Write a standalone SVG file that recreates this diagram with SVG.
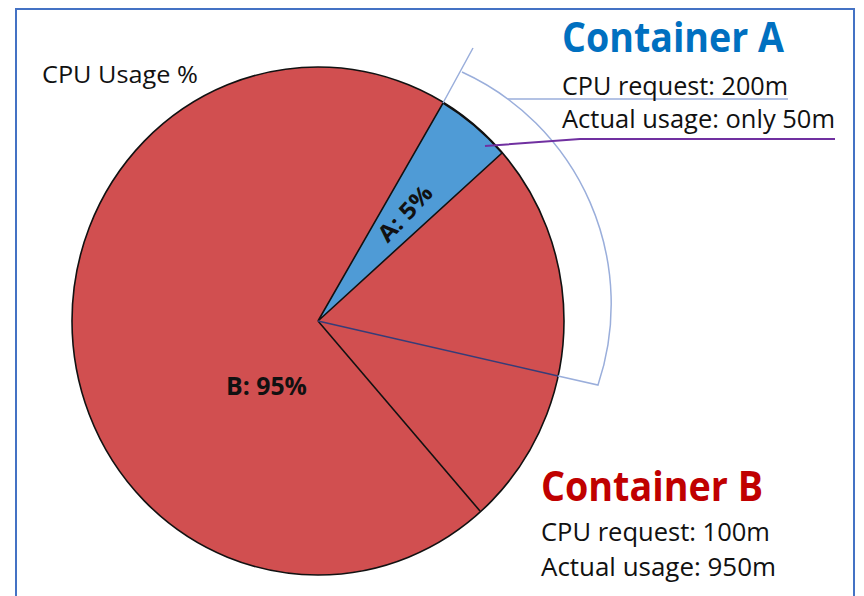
<svg xmlns="http://www.w3.org/2000/svg" width="864" height="596" viewBox="0 0 864 596">
<style>
.t{font-family:"Open Sans","Liberation Sans",sans-serif;fill:#111;}
.h{font-family:"Open Sans","Liberation Sans",sans-serif;font-weight:bold;}
.edge{stroke:#111;stroke-width:1.6;fill:none;}
.br{stroke:#9AAEDB;stroke-width:1.5;fill:none;}
</style>
<rect width="864" height="596" fill="#fff"/>
<rect x="16" y="9" width="838" height="600" fill="none" stroke="#4472C4" stroke-width="2"/>
<text class="t" x="42" y="83" font-size="24" textLength="156" lengthAdjust="spacingAndGlyphs">CPU Usage %</text>
<g id="pie">
<ellipse cx="318" cy="321" rx="246" ry="254" fill="#D14F50" stroke="#111" stroke-width="1.6"/>
<g id="sliceA">
<path d="M318,321 L443,103 A246,254 0 0,1 502,153 Z" fill="#4F9BD6" stroke="#111" stroke-width="1.6"/>
<text class="h" font-size="23" fill="#111" transform="translate(411,219) rotate(-47)" text-anchor="middle" textLength="68" lengthAdjust="spacingAndGlyphs">A: 5%</text>
</g>
<g id="sliceB">
<line class="edge" x1="318" y1="321" x2="480" y2="511"/>
<text class="h" x="226" y="395" font-size="25" fill="#111" textLength="81" lengthAdjust="spacingAndGlyphs">B: 95%</text>
</g>
</g>
<g id="connectors">
<line x1="318" y1="321" x2="558" y2="376" stroke="#363C78" stroke-width="1.6"/>
<path class="br" d="M443,103 L473,48 M462,72 A255,255 0 0,1 598,385 L558,376"/>
<line x1="508" y1="99" x2="788" y2="99" stroke="#9AAEDB" stroke-width="1.5"/>
<polyline points="485,146 580,139 835,139" fill="none" stroke="#7030A0" stroke-width="2"/>
</g>
<g id="containerA">
<text class="h" x="562" y="52" font-size="42" fill="#0070C0" textLength="222" lengthAdjust="spacingAndGlyphs">Container A</text>
<text class="t" x="562" y="95" font-size="25" textLength="226" lengthAdjust="spacingAndGlyphs">CPU request: 200m</text>
<text class="t" x="562" y="128" font-size="25" textLength="273" lengthAdjust="spacingAndGlyphs">Actual usage: only 50m</text>
</g>
<g id="containerB">
<text class="h" x="541" y="501" font-size="42" fill="#C00000" textLength="222" lengthAdjust="spacingAndGlyphs">Container B</text>
<text class="t" x="541" y="541" font-size="25" textLength="229" lengthAdjust="spacingAndGlyphs">CPU request: 100m</text>
<text class="t" x="541" y="576" font-size="25" textLength="235" lengthAdjust="spacingAndGlyphs">Actual usage: 950m</text>
</g>
</svg>
